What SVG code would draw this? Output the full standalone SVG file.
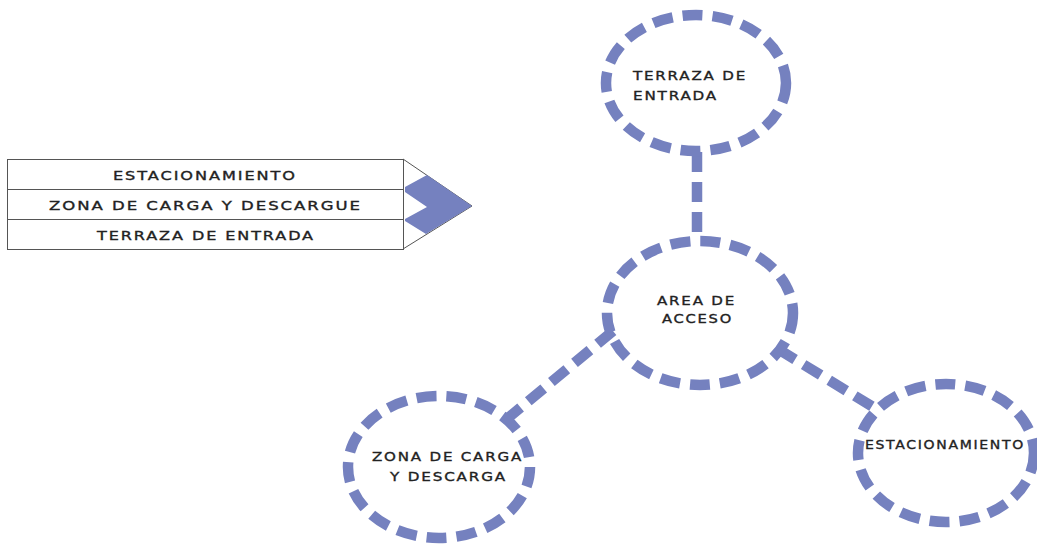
<svg xmlns="http://www.w3.org/2000/svg" width="1037" height="544" viewBox="0 0 1037 544">
<style>
.d{fill:none;stroke:#7581BF;stroke-width:10.5;stroke-dasharray:20 10}
.t{font-family:"DejaVu Sans","Liberation Sans",sans-serif;font-size:12.5px;fill:#222;stroke:#222;stroke-width:0.35;letter-spacing:1.5px}
.box{fill:#fff;stroke:#555;stroke-width:1}
</style>
<rect width="1037" height="544" fill="#fff"/>
<g id="list">
<polygon class="box" points="403,159 472,206 403,249"/>
<polygon fill="#7581BF" points="405,187 427,175 472,206 426,234 405,221 405,219 427,207 405,192"/>
<rect class="box" x="7.5" y="159.5" width="396" height="30"/>
<rect class="box" x="7.5" y="189.5" width="396" height="30"/>
<rect class="box" x="7.5" y="219.5" width="396" height="30"/>
<text class="t" x="113" y="179.5" textLength="184" lengthAdjust="spacingAndGlyphs">ESTACIONAMIENTO</text>
<text class="t" x="49" y="210" textLength="313" lengthAdjust="spacingAndGlyphs">ZONA DE CARGA Y DESCARGUE</text>
<text class="t" x="97" y="239.5" textLength="218" lengthAdjust="spacingAndGlyphs">TERRAZA DE ENTRADA</text>
</g>
<g id="connectors">
<line class="d" x1="697" y1="152" x2="697" y2="240"/>
<line class="d" x1="613" y1="331" x2="508" y2="418"/>
<line class="d" x1="778" y1="349" x2="878" y2="410"/>
</g>
<g id="terraza">
<ellipse class="d" cx="696" cy="83" rx="90" ry="68"/>
<text class="t" x="633" y="79.5" textLength="114" lengthAdjust="spacingAndGlyphs">TERRAZA DE</text>
<text class="t" x="633" y="99.5" textLength="85" lengthAdjust="spacingAndGlyphs">ENTRADA</text>
</g>
<g id="acceso">
<ellipse class="d" cx="700" cy="313" rx="93" ry="72"/>
<text class="t" x="657" y="304.5" textLength="79" lengthAdjust="spacingAndGlyphs">AREA DE</text>
<text class="t" x="662" y="322.5" textLength="71" lengthAdjust="spacingAndGlyphs">ACCESO</text>
</g>
<g id="carga">
<ellipse class="d" cx="439" cy="467" rx="91" ry="71"/>
<text class="t" x="372" y="460.5" textLength="151" lengthAdjust="spacingAndGlyphs">ZONA DE CARGA</text>
<text class="t" x="390" y="480.5" textLength="117" lengthAdjust="spacingAndGlyphs">Y DESCARGA</text>
</g>
<g id="estacionamiento">
<ellipse class="d" cx="946" cy="453" rx="88" ry="69"/>
<text class="t" x="865" y="448.5" textLength="160" lengthAdjust="spacingAndGlyphs">ESTACIONAMIENTO</text>
</g>
</svg>
